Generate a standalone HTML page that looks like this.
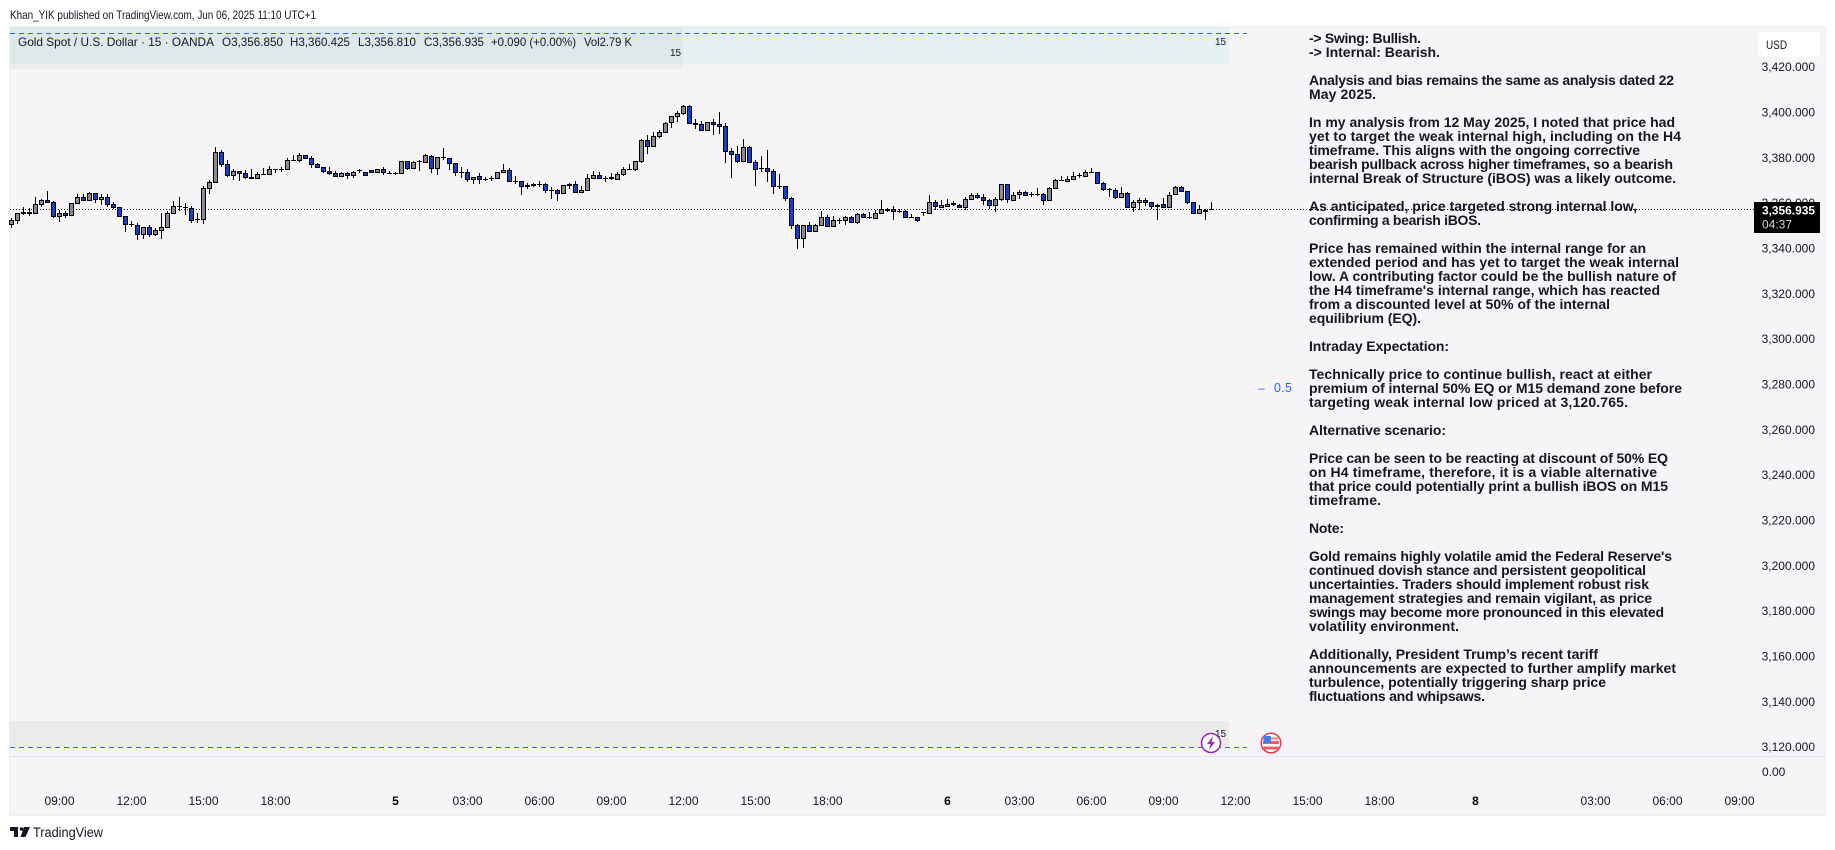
<!DOCTYPE html>
<html lang="en">
<head>
<meta charset="utf-8">
<title>Gold Spot / U.S. Dollar chart</title>
<style>
html,body{margin:0;padding:0;background:#fff;width:1835px;height:850px;overflow:hidden}
svg{display:block;font-family:"Liberation Sans",sans-serif}
.lbl{font-size:12px;fill:#131722}
.note{font-size:14px;font-weight:700;fill:#131722}
.leg{font-size:12px;fill:#131722}
</style>
</head>
<body>
<svg id="chart" width="1835" height="850" viewBox="0 0 1835 850" xmlns="http://www.w3.org/2000/svg">
<text x="10" y="19" class="lbl" textLength="306" lengthAdjust="spacingAndGlyphs">Khan_YIK published on TradingView.com, Jun 06, 2025 11:10 UTC+1</text>
<rect x="9" y="26" width="1817" height="790" fill="#eeeeef"/>
<rect x="10" y="27" width="1815" height="788" fill="#f6f4f6"/>
<rect x="10" y="27" width="1219" height="37" fill="#e5f0f3"/>
<rect x="10" y="27" width="673" height="42" fill="#7f7f90" fill-opacity="0.07"/>
<rect x="10" y="721" width="1219" height="26" fill="#eaeaec"/>
<line x1="10" x2="1247" y1="33.5" y2="33.5" stroke="#2962ff" stroke-width="1" stroke-dasharray="5 4"/>
<line x1="10" x2="1247" y1="747.5" y2="747.5" stroke="#2962ff" stroke-width="1" stroke-dasharray="5 4"/>
<line x1="10" x2="1825" y1="756.5" y2="756.5" stroke="#e0e3eb" stroke-width="1"/>
<line id="lastLine" x1="10" x2="1754" stroke="#131722" stroke-width="1" stroke-dasharray="1 2"/>
<g id="candles"></g>
<g id="priceAxis"></g>
<g id="timeAxis"></g>

<g class="leg">
<text x="18" y="46" class="leg" textLength="196" lengthAdjust="spacingAndGlyphs">Gold Spot / U.S. Dollar · 15 · OANDA</text>
<text x="222" y="46" class="leg" textLength="61" lengthAdjust="spacingAndGlyphs">O3,356.850</text>
<text x="290" y="46" class="leg" textLength="60" lengthAdjust="spacingAndGlyphs">H3,360.425</text>
<text x="358" y="46" class="leg" textLength="58" lengthAdjust="spacingAndGlyphs">L3,356.810</text>
<text x="424" y="46" class="leg" textLength="60" lengthAdjust="spacingAndGlyphs">C3,356.935</text>
<text x="491" y="46" class="leg" textLength="85" lengthAdjust="spacingAndGlyphs">+0.090 (+0.00%)</text>
<text x="584" y="46" class="leg" textLength="48" lengthAdjust="spacingAndGlyphs">Vol2.79 K</text>
</g>
<text x="670" y="56" font-size="10" fill="#131722">15</text>
<text x="1215" y="45" font-size="10" fill="#131722">15</text>
<text x="1215" y="737" font-size="10" fill="#131722">15</text>
<text x="1258" y="392" font-size="12" fill="#2962ff">–</text>
<text x="1274" y="392" font-size="12.500" fill="#2962ff" textLength="18">0.5</text>

<g>
<text class="note" x="1309" y="43" textLength="112">-&gt; Swing: Bullish.</text>
<text class="note" x="1309" y="57" textLength="131">-&gt; Internal: Bearish.</text>
<text class="note" x="1309" y="85" textLength="365">Analysis and bias remains the same as analysis dated 22</text>
<text class="note" x="1309" y="99" textLength="67">May 2025.</text>
<text class="note" x="1309" y="127" textLength="366">In my analysis from 12 May 2025, I noted that price had</text>
<text class="note" x="1309" y="141" textLength="372">yet to target the weak internal high, including on the H4</text>
<text class="note" x="1309" y="155" textLength="331">timeframe. This aligns with the ongoing corrective</text>
<text class="note" x="1309" y="169" textLength="364">bearish pullback across higher timeframes, so a bearish</text>
<text class="note" x="1309" y="183" textLength="367">internal Break of Structure (iBOS) was a likely outcome.</text>
<text class="note" x="1309" y="211" textLength="328">As anticipated, price targeted strong internal low,</text>
<text class="note" x="1309" y="225" textLength="172">confirming a bearish iBOS.</text>
<text class="note" x="1309" y="253" textLength="337">Price has remained within the internal range for an</text>
<text class="note" x="1309" y="267" textLength="370">extended period and has yet to target the weak internal</text>
<text class="note" x="1309" y="281" textLength="367">low. A contributing factor could be the bullish nature of</text>
<text class="note" x="1309" y="295" textLength="351">the H4 timeframe's internal range, which has reacted</text>
<text class="note" x="1309" y="309" textLength="301">from a discounted level at 50% of the internal</text>
<text class="note" x="1309" y="323" textLength="112">equilibrium (EQ).</text>
<text class="note" x="1309" y="351" textLength="140">Intraday Expectation:</text>
<text class="note" x="1309" y="379" textLength="343">Technically price to continue bullish, react at either</text>
<text class="note" x="1309" y="393" textLength="373">premium of internal 50% EQ or M15 demand zone before</text>
<text class="note" x="1309" y="407" textLength="319">targeting weak internal low priced at 3,120.765.</text>
<text class="note" x="1309" y="435" textLength="137">Alternative scenario:</text>
<text class="note" x="1309" y="463" textLength="359">Price can be seen to be reacting at discount of 50% EQ</text>
<text class="note" x="1309" y="477" textLength="348">on H4 timeframe, therefore, it is a viable alternative</text>
<text class="note" x="1309" y="491" textLength="359">that price could potentially print a bullish iBOS on M15</text>
<text class="note" x="1309" y="505" textLength="72">timeframe.</text>
<text class="note" x="1309" y="533" textLength="35">Note:</text>
<text class="note" x="1309" y="561" textLength="363">Gold remains highly volatile amid the Federal Reserve's</text>
<text class="note" x="1309" y="575" textLength="337">continued dovish stance and persistent geopolitical</text>
<text class="note" x="1309" y="589" textLength="340">uncertainties. Traders should implement robust risk</text>
<text class="note" x="1309" y="603" textLength="343">management strategies and remain vigilant, as price</text>
<text class="note" x="1309" y="617" textLength="355">swings may become more pronounced in this elevated</text>
<text class="note" x="1309" y="631" textLength="150">volatility environment.</text>
<text class="note" x="1309" y="659" textLength="289">Additionally, President Trump’s recent tariff</text>
<text class="note" x="1309" y="673" textLength="367">announcements are expected to further amplify market</text>
<text class="note" x="1309" y="687" textLength="297">turbulence, potentially triggering sharp price</text>
<text class="note" x="1309" y="701" textLength="176">fluctuations and whipsaws.</text>
</g>

<g>
<rect x="1758" y="32" width="62" height="25" rx="3" fill="#ffffff"/>
<text x="1766" y="49" class="lbl" textLength="21" lengthAdjust="spacingAndGlyphs">USD</text>
</g>
<g>
<rect x="1754" y="202" width="66" height="31" fill="#000000"/>
<text id="lastPriceLabel" x="1762" y="214.5" font-size="12" font-weight="700" fill="#ffffff" textLength="53" lengthAdjust="spacingAndGlyphs"></text>
<text x="1762" y="228.5" font-size="12" fill="#d8d8d8">04:37</text>
</g>

<g>
<circle cx="1211" cy="743" r="9.5" fill="#ffffff" stroke="#9c27b0" stroke-width="1.5"/>
<polygon points="1213,736 1207,744 1210.5,744 1209,750 1215,742 1211.5,742" fill="#9c27b0"/>
</g>
<g>
<circle cx="1271" cy="743" r="9.8" fill="#ffffff" stroke="#f23645" stroke-width="1.5"/>
<rect x="1264" y="737" width="14" height="3" fill="#f7a1a8"/>
<rect x="1263" y="741" width="16" height="3" fill="#f05a66"/>
<rect x="1263.5" y="746.5" width="15" height="3" fill="#f05a66"/>
<rect x="1263.5" y="736" width="7.5" height="7" fill="#3d7ff0"/>
</g>

<g>
<path d="M10 827h8v10h-4v-6h-4z M24 827h6l-4.500 10h-5z" fill="#131722"/>
<circle cx="21.500" cy="829" r="1.800" fill="#131722"/>
<text x="33" y="837" font-size="13.500" fill="#131722" textLength="70" lengthAdjust="spacingAndGlyphs">TradingView</text>
</g>

<script>
var opens=[3350.3,3352.1,3355.8,3355.8,3355.2,3359.1,3361.1,3360.2,3353.8,3355.3,
3354.3,3359.7,3362.4,3360.9,3364.1,3361.4,3362.4,3359.3,3358.0,3354.0,
3350.6,3350.0,3346.1,3349.1,3346.1,3347.8,3349.1,3355.3,3358.4,3358.0,
3357.5,3352.7,3352.4,3366.3,3369.0,3382.2,3376.9,3371.9,3373.9,3373.0,
3371.2,3370.6,3372.5,3372.5,3374.6,3374.7,3374.7,3378.7,3378.6,3380.9,
3379.6,3376.9,3375.6,3373.9,3373.0,3371.6,3373.0,3372.1,3374.0,3373.4,
3374.1,3373.4,3374.7,3373.1,3373.0,3373.0,3378.3,3375.2,3378.2,3377.8,
3380.5,3375.2,3379.9,3379.4,3377.4,3373.4,3373.4,3370.3,3371.6,3370.3,
3370.7,3370.8,3373.4,3374.3,3369.4,3369.4,3367.8,3368.1,3368.1,3368.1,
3365.5,3365.5,3364.2,3367.7,3368.1,3364.6,3365.5,3370.8,3372.1,3370.8,
3370.8,3370.3,3372.5,3374.7,3374.7,3378.3,3387.5,3384.9,3389.3,3391.1,
3395.5,3398.1,3399.4,3402.5,3395.0,3394.6,3391.9,3395.5,3394.6,3393.7,
3382.7,3381.4,3378.3,3384.4,3377.8,3375.2,3375.2,3373.9,3367.2,3367.2,
3361.9,3350.0,3344.3,3350.0,3347.4,3350.0,3353.6,3349.6,3352.2,3352.2,
3353.6,3351.4,3354.9,3353.6,3353.1,3355.3,3357.1,3356.8,3356.3,3356.2,
3353.6,3353.6,3355.7,3355.3,3360.2,3358.0,3358.4,3359.4,3358.8,3358.0,
3361.5,3363.3,3362.4,3361.1,3358.8,3361.5,3368.1,3361.1,3363.7,3364.6,
3363.7,3363.7,3363.7,3361.1,3366.3,3369.7,3369.4,3370.3,3371.9,3371.6,
3373.4,3373.4,3368.5,3365.9,3365.5,3362.4,3364.1,3358.0,3360.2,3361.1,
3360.2,3358.8,3359.3,3358.0,3363.7,3366.8,3365.0,3360.2,3355.3,3356.6,
3356.85];
var highs=[3353.1,3355.6,3358.0,3357.8,3362.4,3361.5,3365.2,3360.9,3356.6,3356.5,
3360.0,3363.8,3363.7,3364.6,3364.1,3364.0,3363.8,3360.2,3358.3,3354.0,
3351.9,3350.9,3349.4,3350.0,3348.7,3355.5,3356.3,3360.8,3362.4,3359.7,
3358.7,3355.3,3367.4,3369.9,3384.4,3383.3,3378.8,3374.9,3374.1,3374.4,
3374.9,3373.4,3375.3,3376.1,3374.7,3375.9,3379.6,3381.1,3381.8,3381.1,
3380.6,3377.4,3375.9,3375.6,3373.9,3373.4,3373.7,3373.9,3375.0,3373.4,
3374.4,3375.0,3375.6,3373.9,3373.7,3378.6,3378.6,3378.3,3378.7,3381.4,
3381.2,3380.0,3384.0,3379.7,3377.5,3375.6,3374.7,3371.2,3373.0,3371.2,
3371.9,3373.4,3377.1,3375.2,3371.9,3369.7,3368.6,3368.7,3369.4,3368.6,
3366.8,3365.9,3367.7,3368.6,3369.4,3367.2,3372.5,3373.9,3373.4,3371.6,
3373.0,3373.4,3375.6,3377.0,3378.3,3388.0,3389.7,3391.1,3392.1,3395.5,
3398.1,3400.3,3403.0,3403.0,3396.8,3395.9,3395.5,3396.8,3399.9,3395.0,
3384.0,3384.9,3388.0,3384.9,3378.7,3380.5,3383.1,3374.7,3372.5,3367.2,
3362.4,3350.5,3350.0,3351.4,3350.5,3356.4,3354.4,3354.0,3353.3,3354.0,
3354.0,3355.3,3355.3,3355.8,3356.7,3361.2,3357.5,3358.5,3357.1,3356.6,
3354.9,3353.8,3355.8,3363.3,3361.1,3361.1,3361.5,3360.6,3359.3,3362.4,
3364.1,3364.1,3363.7,3361.5,3362.4,3368.1,3368.1,3364.6,3365.5,3365.0,
3364.6,3366.3,3364.1,3366.8,3370.3,3371.6,3371.6,3373.4,3373.0,3374.3,
3375.2,3373.4,3369.0,3366.3,3366.3,3366.8,3364.6,3361.1,3361.9,3361.9,
3360.2,3359.3,3361.9,3364.6,3367.2,3367.2,3365.0,3360.2,3358.8,3357.1,
3360.425];
var lows=[3349.0,3350.6,3354.4,3354.3,3355.2,3358.3,3359.7,3353.4,3351.5,3353.3,
3354.3,3359.7,3360.9,3360.9,3360.0,3359.0,3358.3,3357.2,3354.0,3347.2,
3349.1,3343.6,3344.1,3345.0,3345.5,3344.1,3349.1,3355.3,3356.5,3354.6,
3351.2,3350.9,3350.8,3364.0,3368.5,3375.6,3371.5,3370.0,3369.7,3370.6,
3370.8,3370.6,3372.5,3372.5,3373.0,3373.7,3374.7,3378.7,3378.1,3379.6,
3375.5,3375.2,3373.0,3372.1,3371.6,3371.5,3370.6,3371.1,3373.3,3372.1,
3373.0,3373.0,3372.4,3372.8,3372.4,3373.0,3374.3,3375.2,3374.1,3377.4,
3373.3,3372.4,3379.0,3374.6,3371.9,3370.8,3369.3,3368.1,3368.1,3369.4,
3369.7,3370.8,3373.4,3369.4,3368.1,3363.6,3365.9,3366.8,3366.8,3364.4,
3361.5,3360.9,3363.7,3365.9,3364.6,3364.6,3365.5,3370.8,3370.3,3369.3,
3370.0,3370.3,3371.6,3374.4,3373.9,3377.4,3381.6,3384.7,3388.4,3391.1,
3393.1,3395.8,3398.6,3395.0,3392.4,3391.5,3391.9,3389.7,3390.2,3377.7,
3371.1,3377.4,3377.8,3377.4,3367.5,3373.7,3369.3,3363.7,3365.9,3360.6,
3348.3,3339.5,3339.9,3347.0,3347.4,3350.0,3349.2,3349.6,3350.5,3350.0,
3350.9,3350.5,3353.1,3352.7,3353.1,3354.9,3355.9,3352.5,3355.6,3353.1,
3353.6,3351.5,3354.1,3355.3,3356.6,3358.0,3358.4,3358.7,3357.5,3356.6,
3361.5,3361.8,3359.0,3357.1,3355.9,3360.9,3359.7,3360.6,3361.5,3362.8,
3362.4,3362.8,3359.0,3361.1,3366.3,3369.4,3369.0,3370.3,3370.8,3371.6,
3373.4,3368.1,3365.0,3362.4,3361.5,3361.9,3358.0,3355.9,3356.6,3358.4,
3357.1,3352.5,3358.0,3358.0,3363.3,3365.0,3359.3,3355.3,3355.3,3352.5,
3356.81];
var closes=[3352.1,3355.3,3355.2,3355.2,3359.3,3361.1,3360.0,3353.8,3355.3,3354.3,
3359.7,3362.4,3360.9,3364.1,3361.4,3362.4,3359.1,3357.8,3354.0,3350.5,
3350.3,3346.1,3349.1,3346.1,3347.8,3349.1,3355.3,3358.4,3358.3,3357.7,
3352.2,3352.5,3366.3,3369.0,3382.2,3376.9,3371.9,3373.9,3373.0,3371.1,
3370.8,3372.5,3372.6,3374.7,3374.7,3374.8,3378.7,3378.8,3380.9,3379.6,
3376.9,3375.6,3373.9,3373.0,3371.6,3373.0,3372.1,3373.4,3374.1,3372.1,
3373.4,3374.7,3373.4,3373.0,3373.0,3378.3,3375.2,3377.8,3378.3,3380.9,
3375.2,3380.0,3380.0,3377.4,3373.4,3373.4,3370.3,3371.2,3370.3,3370.3,
3370.8,3373.4,3374.3,3369.4,3369.4,3367.2,3367.2,3367.7,3368.1,3365.5,
3365.5,3364.2,3367.7,3368.1,3364.6,3365.5,3370.8,3372.1,3370.8,3370.8,
3370.9,3372.5,3374.7,3374.7,3378.3,3387.5,3384.9,3389.3,3391.1,3395.0,
3398.1,3399.4,3402.5,3395.0,3394.6,3391.9,3395.5,3394.6,3393.7,3382.7,
3381.4,3378.3,3384.4,3377.8,3374.7,3375.2,3373.9,3367.2,3367.2,3361.9,
3350.0,3344.3,3350.0,3347.4,3350.0,3353.6,3349.6,3352.2,3352.2,3353.6,
3351.4,3354.9,3353.6,3353.6,3355.3,3357.1,3356.7,3356.3,3356.3,3353.6,
3353.6,3352.2,3355.8,3360.2,3358.4,3358.8,3359.3,3359.5,3358.0,3361.5,
3363.3,3362.4,3361.1,3358.8,3361.5,3368.1,3361.5,3363.3,3364.6,3363.3,
3363.7,3363.8,3361.1,3366.3,3369.9,3369.7,3370.3,3371.6,3371.9,3373.4,
3373.4,3368.5,3365.9,3365.9,3362.4,3364.1,3358.0,3360.2,3361.1,3360.2,
3358.4,3358.4,3358.0,3363.3,3366.8,3365.0,3360.2,3355.3,3357.1,3356.2,
3356.935];
var priceTicks=[3420,3400,3380,3360,3340,3320,3300,3280,3260,3240,3220,3200,3180,3160,3140,3120];
var timeLabels=["09:00","12:00","15:00","18:00","5","03:00","06:00","09:00","12:00","15:00","18:00","6","03:00","06:00","09:00","12:00","15:00","18:00","8","03:00","06:00","09:00"];
var timeBars=[8,20,32,44,64,76,88,100,112,124,136,156,168,180,192,204,216,228,244,264,276,288];
var volumePaneTicks=["0.00"];

var SVGNS="http://www.w3.org/2000/svg";
function xBar(i){return 11.5+6*i;}
function yPrice(p){return 66.7+(3420-p)*680/300;}
function snap(v){return Math.round(v-0.5)+0.5;}
function node(tag,parent){var e=document.createElementNS(SVGNS,tag);parent.appendChild(e);return e;}

var candleGroup=document.getElementById("candles");
opens.forEach(function(o,i){
  var c=closes[i],up=c>=o,x=xBar(i);
  var wick=node("line",candleGroup);
  
  
  wick.setAttribute("x1",x);wick.setAttribute("x2",x);
  wick.setAttribute("y1",Math.round(yPrice(highs[i])));
  wick.setAttribute("y2",Math.round(yPrice(lows[i])));
  wick.setAttribute("stroke","#000");wick.setAttribute("stroke-width","1");
  var top=snap(yPrice(Math.max(o,c))),bot=snap(yPrice(Math.min(o,c)));
  if(bot-top<1){
    var tick=node("line",candleGroup);
    
    
    tick.setAttribute("x1",x-2.5);tick.setAttribute("x2",x+2.5);
    tick.setAttribute("y1",top);tick.setAttribute("y2",top);
    tick.setAttribute("stroke","#000");tick.setAttribute("stroke-width","1");
  }else{
    var body=node("rect",candleGroup);
    
    
    body.setAttribute("x",x-2);body.setAttribute("width",4);
    body.setAttribute("y",top);body.setAttribute("height",bot-top);
    body.setAttribute("fill",up?"#888b92":"#1440d0");
    body.setAttribute("stroke","#000");body.setAttribute("stroke-width","1");
  }
});

var lastClose=closes[closes.length-1];
var lastLine=document.getElementById("lastLine");
lastLine.setAttribute("y1",snap(yPrice(lastClose)));
lastLine.setAttribute("y2",snap(yPrice(lastClose)));
function fmt(p){return p.toFixed(3).replace(/\B(?=(\d{3})(?!\d))(?=\d{1,3}\.)/,",");}
document.getElementById("lastPriceLabel").textContent=fmt(lastClose);

var priceGroup=document.getElementById("priceAxis");
priceTicks.forEach(function(p){
  var t=node("text",priceGroup);
  
  
  t.setAttribute("x",1815);t.setAttribute("text-anchor","end");
  t.setAttribute("y",yPrice(p)+4.5);t.setAttribute("class","lbl");
  t.textContent=fmt(p);
});
volumePaneTicks.forEach(function(v){
  var t=node("text",priceGroup);
  
  
  t.setAttribute("x",1762);t.setAttribute("y",776);t.setAttribute("class","lbl");
  t.textContent=v;
});

var timeGroup=document.getElementById("timeAxis");
timeLabels.forEach(function(s,i){
  var t=node("text",timeGroup);
  
  
  t.setAttribute("x",xBar(timeBars[i]));t.setAttribute("y",805);
  t.setAttribute("text-anchor","middle");t.setAttribute("class","lbl");
  if(s.length<3){t.setAttribute("font-weight","700");t.style.fill="#000";}
  t.textContent=s;
});
</script>
</svg>
</body>
</html>
